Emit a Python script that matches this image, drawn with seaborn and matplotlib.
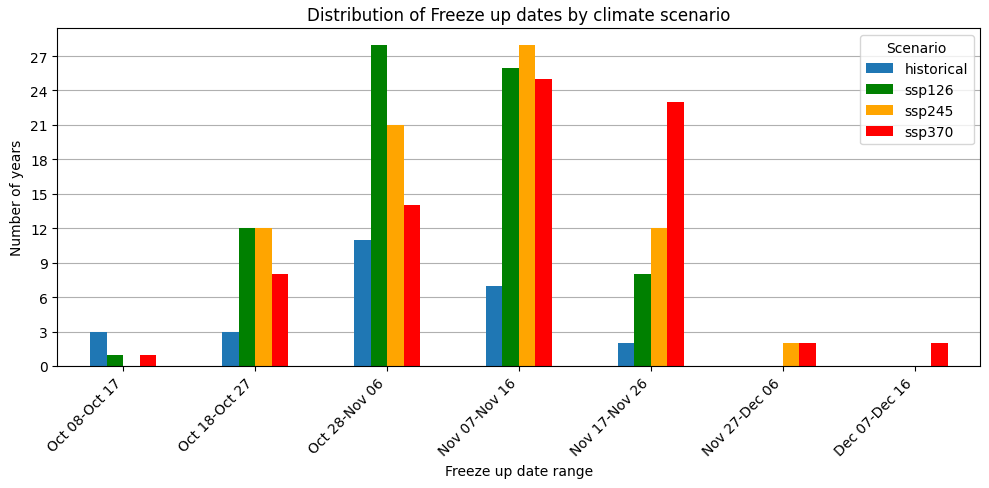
import pandas as pd
import matplotlib.pyplot as plt
import seaborn as sns

ranges = ["Oct 08-Oct 17", "Oct 18-Oct 27", "Oct 28-Nov 06", "Nov 07-Nov 16",
          "Nov 17-Nov 26", "Nov 27-Dec 06", "Dec 07-Dec 16"]
scenarios = ["historical", "ssp126", "ssp245", "ssp370"]
historical = [3, 3, 11, 7, 2, 0, 0]
ssp126 = [1, 12, 28, 26, 8, 0, 0]
ssp245 = [0, 12, 21, 28, 12, 2, 0]
ssp370 = [1, 8, 14, 25, 23, 2, 2]
colors = ["#1f77b4", "green", "orange", "red"]

df = pd.DataFrame({"range": ranges, "historical": historical, "ssp126": ssp126,
                   "ssp245": ssp245, "ssp370": ssp370})
long = df.melt(id_vars="range", var_name="Scenario", value_name="count")

fig, ax = plt.subplots(figsize=(9.89, 4.89), dpi=100)
sns.barplot(data=long, x="range", y="count", hue="Scenario", hue_order=scenarios,
            palette=colors, width=0.5, saturation=1, linewidth=0, ax=ax)
ax.set_title("Distribution of Freeze up dates by climate scenario")
ax.set_xlabel("Freeze up date range")
ax.set_ylabel("Number of years")
ax.set_yticks(range(0, 28, 3))
ax.set_ylim(0, 29.4)
ax.set_xlim(-0.5, len(ranges) - 0.5)
ax.grid(axis="y")
ax.set_axisbelow(True)
plt.setp(ax.get_xticklabels(), rotation=45, ha="right")
ax.legend(title="Scenario", loc="upper right")
fig.subplots_adjust(left=0.0581, right=0.9914, top=0.9397, bottom=0.2495)
plt.savefig("out.png", dpi=100)
